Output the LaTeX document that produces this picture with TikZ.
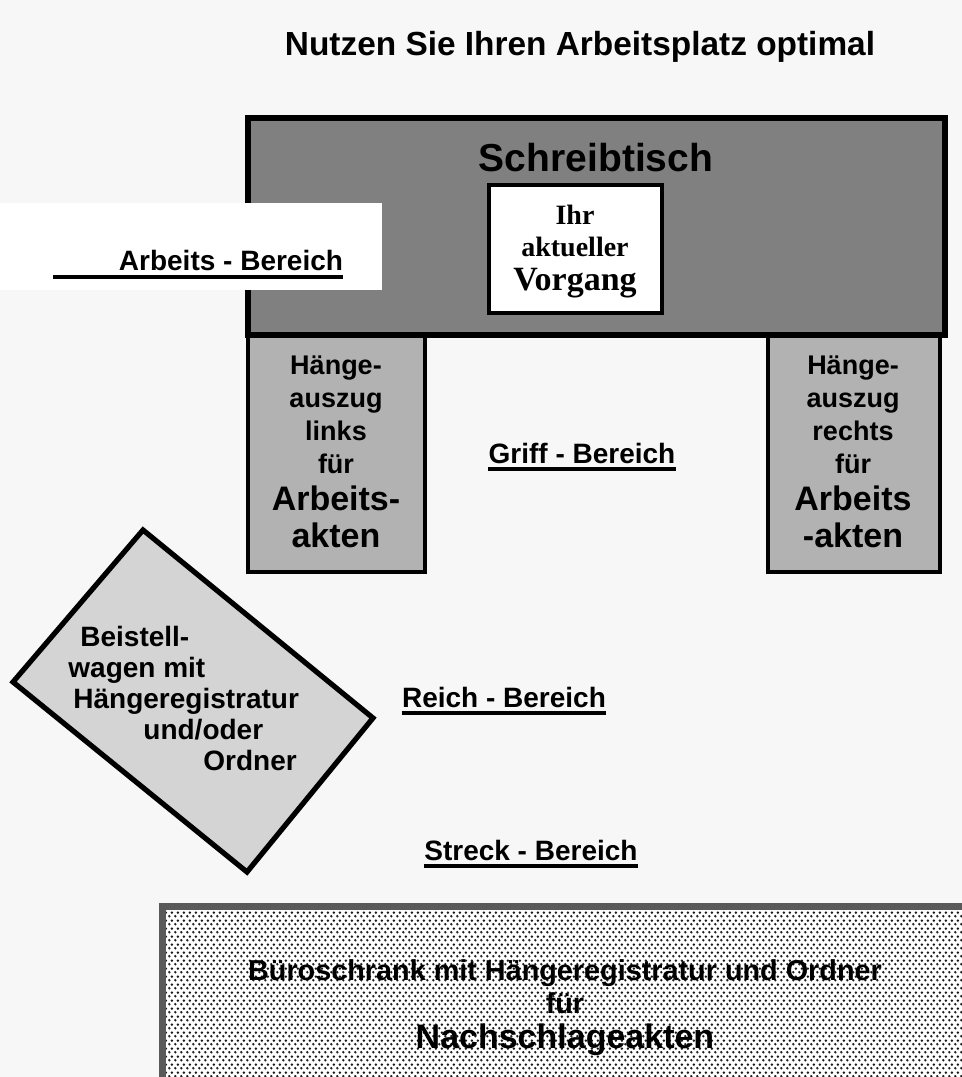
\documentclass[tikz,border=0pt]{standalone}
\usepackage{fontspec}
\setmainfont{Liberation Sans}
\newfontfamily\timesfont{Liberation Serif}
\usetikzlibrary{patterns.meta}

\newcommand{\biglines}[1]{{\fontsize{17}{19}\selectfont #1}}

\tikzdeclarepattern{
	name=cabinetdots, type=uncolored,
	bounding box={(0,0) and (3pt,4pt)}, tile size={(3pt,4pt)},
	code={\fill (0.75pt,1pt) circle (0.75pt); \fill (2.25pt,3pt) circle (0.75pt);}
}

\begin{document}
\begin{tikzpicture}[x=0.5pt,y=-0.5pt,
	area/.style={font=\bfseries\fontsize{14}{16}\selectfont, inner sep=0pt, anchor=base},
	uline/.style={line width=1.6pt},
	furniture/.style={draw=black, line width=2.2pt},
	boxtext/.style={font=\bfseries\fontsize{13.5}{16.5}\selectfont, align=center, inner sep=0pt}]

% page %{{{2

	\useasboundingbox (0,0) rectangle (962,1077);
	\clip (0,0) rectangle (962,1077);
	\fill[black!3] (0,0) rectangle (962,1077);

% coordinates %{{{2

	\coordinate (D1) at (248,118);   % Schreibtisch
	\coordinate (D2) at (945,335);
	\coordinate (V1) at (489,185);   % Vorgang
	\coordinate (V2) at (662,313);
	\coordinate (L1) at (248,335);   % Haengeauszug links
	\coordinate (L2) at (425,572);
	\coordinate (R1) at (768,335);   % Haengeauszug rechts
	\coordinate (R2) at (940,572);
	\coordinate (W1) at (143,530);   % Beistellwagen
	\coordinate (W2) at (373,718);
	\coordinate (W3) at (247,872);
	\coordinate (W4) at (13,682);
	\coordinate (S1) at (162,906);   % Bueroschrank
	\coordinate (S2) at (990,1100);

% title %{{{2

	\node[font=\bfseries\fontsize{16.7}{20}\selectfont, inner sep=0pt, anchor=base] (title)
		at (580,55) {Nutzen Sie Ihren Arbeitsplatz optimal};

% furniture %{{{2

	\filldraw[furniture, fill=black!30] (L1) rectangle (L2);
	\filldraw[furniture, fill=black!30] (R1) rectangle (R2);
	\filldraw[furniture, line width=2.6pt, fill=black!50] (D1) rectangle (D2);
	\filldraw[line width=1.6pt, fill=white] (V1) rectangle (V2);
	\filldraw[furniture, line width=2.6pt, fill=black!17]
		(W1) \foreach \i in {2,...,4} { -- (W\i) } -- cycle;
	\fill[white] (S1) rectangle (S2);
	\fill[pattern=cabinetdots, pattern color=black!90] (S1) rectangle (S2);
	\draw[line width=3.5pt, black!65] (S1) rectangle (S2);

% furniture labels %{{{2

	\node[font=\bfseries\fontsize{19.5}{22}\selectfont, inner sep=0pt, anchor=base] (desk)
		at (596,171) {Schreibtisch};
	\node[font=\timesfont\bfseries\fontsize{14}{16}\selectfont, align=center, inner sep=0pt] (vorgang)
		at (575,252) {Ihr\\aktueller\\[1pt]\biglines{Vorgang}};
	\node[boxtext] (links) at (336,452)
		{Hänge-\\auszug\\links\\für\\[2pt]\biglines{Arbeits-}\\[2pt]\biglines{akten}};
	\node[boxtext] (rechts) at (853,452)
		{Hänge-\\auszug\\rechts\\für\\[2pt]\biglines{Arbeits}\\[2pt]\biglines{-akten}};
	\node[boxtext, font=\bfseries\fontsize{14}{15.5}\selectfont, align=left, anchor=west] (wagen)
		at (68,698) {\hspace*{6pt}Beistell-\\wagen mit\\\hspace*{2.5pt}Hängeregistratur\\%
		\hspace*{37.5pt}und/oder\\\hspace*{67.5pt}Ordner};
	\node[font=\bfseries\fontsize{14.4}{16.5}\selectfont, align=center, inner sep=0pt] (schrank)
		at (565,1008) {Büroschrank mit Hängeregistratur und Ordner\\für\\[1pt]\biglines{Nachschlageakten}};

% Bereiche %{{{2

	\fill[white] (-10,203) rectangle (382,290);
	\node[area] (arbeits) at (231,270) {Arbeits - Bereich};
	\coordinate (arbstart) at (53,0);
	\draw[uline] ([yshift=-3.5pt]arbstart |- arbeits.base) -- ([yshift=-3.5pt]arbeits.base east);

	\node[area] (griff) at (582,463) {Griff - Bereich};
	\node[area] (reich) at (504,707) {Reich - Bereich};
	\node[area] (streck) at (531,860) {Streck - Bereich};

	\foreach \n in {griff,reich,streck} {
		\draw[uline] ([yshift=-3pt]\n.base west) -- ([yshift=-3pt]\n.base east);
	}

\end{tikzpicture}
\end{document}
